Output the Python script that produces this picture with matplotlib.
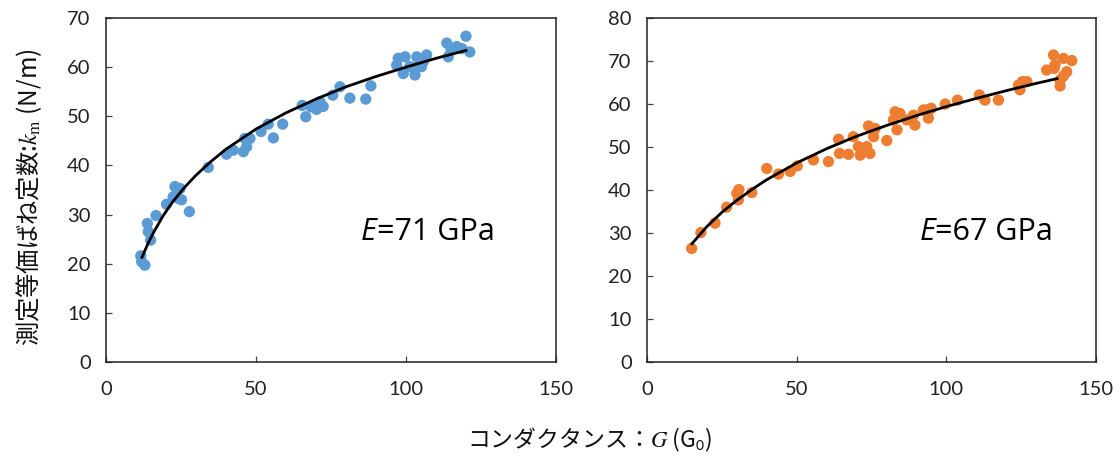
import matplotlib
matplotlib.use("Agg")
import matplotlib.pyplot as plt

plt.rcParams['font.family'] = ['Lato', 'Noto Sans CJK JP', 'DejaVu Sans']
plt.rcParams['mathtext.fontset'] = 'stix'

# ---- data: conductance G (G0) vs measured equivalent spring constant k_m (N/m)
g_left = [11.6, 11.9, 13.0, 13.8, 14.1, 14.9, 16.7, 20.2, 22.4, 23.0, 24.1, 24.7,
          25.2, 27.8, 34.1, 40.2, 42.4, 45.8, 46.3, 46.9, 48.0, 51.7, 54.1, 55.8,
          58.9, 65.4, 66.6, 68.4, 70.2, 71.3, 72.4, 75.6, 78.0, 81.3, 86.6, 88.3,
          96.9, 97.4, 99.1, 99.7, 101.3, 103.0, 103.6, 103.6, 105.2, 105.8, 106.9,
          113.6, 114.1, 115.0, 116.9, 118.6, 120.0, 121.3]
k_left = [21.6, 20.4, 19.7, 28.2, 26.5, 24.8, 29.8, 32.1, 33.6, 35.7, 33.3, 35.3,
          33.0, 30.6, 39.6, 42.3, 43.1, 42.8, 45.5, 43.8, 45.5, 46.9, 48.4, 45.6,
          48.4, 52.2, 49.9, 51.9, 51.4, 53.0, 52.0, 54.3, 56.0, 53.7, 53.5, 56.2,
          60.4, 61.8, 58.7, 62.1, 60.1, 58.4, 62.1, 60.1, 60.1, 61.1, 62.5,
          64.9, 62.1, 63.5, 64.2, 63.8, 66.3, 63.1]

g_right = [14.9, 18.0, 22.7, 26.6, 30.0, 30.5, 30.7, 35.0, 40.0, 43.9, 47.8, 50.2,
           55.6, 60.6, 64.0, 64.3, 67.3, 68.9, 70.6, 71.2, 73.4, 74.0, 74.5, 75.7,
           76.2, 80.1, 82.3, 82.9, 83.5, 84.5, 86.8, 89.0, 89.5, 92.3, 92.9, 94.0,
           94.6, 94.9, 99.6, 103.7, 111.0, 112.9, 117.4, 124.1, 124.6, 125.4, 126.9,
           133.5, 135.8, 136.0, 136.3, 138.0, 138.0, 139.1, 139.1, 140.2, 141.9]
k_right = [26.4, 30.1, 32.3, 36.0, 39.2, 37.7, 40.1, 39.4, 45.0, 43.7, 44.3, 45.6,
           47.0, 46.6, 51.8, 48.5, 48.3, 52.4, 50.1, 48.1, 50.1, 54.9, 48.5, 52.4,
           54.3, 51.5, 56.3, 58.2, 54.0, 57.8, 56.3, 57.4, 55.1, 58.6, 58.6, 56.7,
           58.8, 59.0, 60.0, 60.9, 62.1, 60.9, 60.9, 64.4, 63.3, 65.2, 65.2,
           67.9, 71.4, 68.3, 69.1, 65.6, 64.2, 70.6, 66.5, 67.5, 70.1]

# fitted trend lines
fit_g_left = [12, 14, 16, 19, 22, 26, 30, 35, 40, 50, 60, 70, 80, 90, 100, 110, 120]
fit_k_left = [21.3, 24.1, 26.5, 29.7, 32.4, 35.4, 38.0, 40.8, 43.3, 47.4, 50.7,
              53.5, 56.0, 58.1, 60.0, 61.8, 63.4]
fit_g_right = [15, 20, 25, 30, 35, 40, 50, 60, 70, 80, 90, 100, 110, 120, 130, 137]
fit_k_right = [27.5, 31.5, 34.8, 37.6, 40.1, 42.4, 46.3, 49.6, 52.5, 55.0, 57.3,
               59.4, 61.3, 63.1, 64.8, 65.9]

x_ticks = [0, 50, 100, 150]
y_ticks_left = [0, 10, 20, 30, 40, 50, 60, 70]
y_ticks_right = [0, 10, 20, 30, 40, 50, 60, 70, 80]

blue = '#5B9BD5'
orange = '#ED7D31'

fig = plt.figure(figsize=(11.2, 4.62), dpi=100)
ax1 = fig.add_axes([0.0946, 0.2165, 0.4018, 0.7445])
ax2 = fig.add_axes([0.5777, 0.2165, 0.4009, 0.7445])


def style(ax, yticks):
    ax.set_xlim(0, 150)
    ax.set_ylim(yticks[0], yticks[-1])
    ax.set_xticks(x_ticks)
    ax.set_yticks(yticks)
    for s in ax.spines.values():
        s.set_linewidth(1.1)
        s.set_color('#222222')
    ax.tick_params(direction='in', length=4, width=0.9, color='#444444',
                   labelsize=14.5, labelcolor='#222222')
    ax.tick_params(axis='x', pad=14)
    ax.tick_params(axis='y', pad=11)


def e_label(ax, x, y, rest):
    t = ax.text(x, y, 'E', fontsize=22, style='italic', va='center', ha='left',
                family=['Open Sans', 'DejaVu Sans'])
    ax.annotate(rest, xy=(1, 0), xycoords=t, va='bottom', ha='left',
                fontsize=22, family=['Open Sans', 'DejaVu Sans'])


ax1.scatter(g_left, k_left, s=66, color=blue, edgecolors='none', zorder=2)
ax1.plot(fit_g_left, fit_k_left, color='black', lw=2.0, zorder=3)
style(ax1, y_ticks_left)
e_label(ax1, 85, 26.5, '=71 GPa')

ax2.scatter(g_right, k_right, s=66, color=orange, edgecolors='none', zorder=2)
ax2.plot(fit_g_right, fit_k_right, color='black', lw=2.0, zorder=3)
style(ax2, y_ticks_right)
e_label(ax2, 91, 30.2, '=67 GPa')

fig.text(0.026, 0.574, r'測定等価ばね定数:$k_\mathrm{m}$ (N/m)', rotation=90,
         ha='center', va='center', fontsize=17.5, color='#111111',
         family='Noto Sans CJK JP')
fig.text(0.527, 0.048, r'コンダクタンス：$G$ (G$_\mathsf{0}$)', ha='center',
         va='center', fontsize=16.5, color='#111111', family='Noto Sans CJK JP')

fig.savefig('out.png', dpi=100)
